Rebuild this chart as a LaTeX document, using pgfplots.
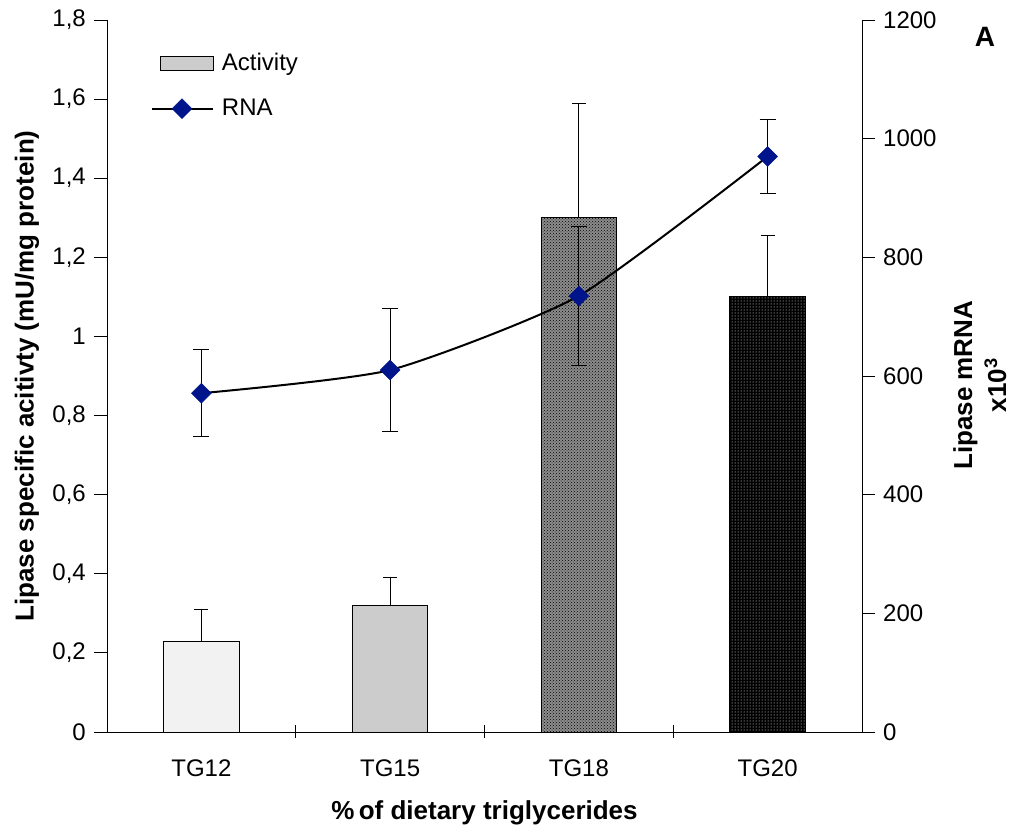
\documentclass[border=0pt]{standalone}
\usepackage{fontspec}
\setmainfont{Liberation Sans}
\usepackage{pgfplots}
\pgfplotsset{compat=1.18}
\usetikzlibrary{patterns}
\definecolor{rnablue}{HTML}{00148C}
\definecolor{tgA}{HTML}{F2F2F2}
\definecolor{tgB}{HTML}{CCCCCC}
\begin{document}
\fontsize{24}{28}\selectfont
\begin{tikzpicture}
\pgfplotsset{
  base/.style={
    scale only axis, width=755pt, height=712pt, at={(0,0)}, anchor=south west,
    xmin=-0.5, xmax=3.5,
    /pgf/number format/assume math mode=true,
    /pgf/number format/use comma,
    /pgf/number format/1000 sep={},
    tick label style={font=\fontsize{24}{28}\selectfont},
    label style={font=\fontsize{26}{34}\selectfont\bfseries},
    major tick length=13pt,
    axis line style={draw=black, line width=0.9pt},
    every tick/.style={black, line width=0.9pt},
  },
  bars/.style={ybar, bar width=0.4, bar shift=0pt, draw=black, line width=0.9pt},
  errs/.style={error bars/.cd, y dir=plus, y explicit,
    error bar style={black, line width=1pt},
    error mark options={rotate=90, mark size=7pt, line width=1pt, black}},
  rnaleg/.style={legend image code/.code={\draw[mark repeat=2,mark phase=2,##1] plot coordinates {(0pt,0pt) (30pt,0pt) (61pt,0pt)};\path (67pt,0pt);}},
}
\begin{axis}[base,
  ymin=0, ymax=1.8,
  ytick={0,0.2,0.4,0.6,0.8,1,1.2,1.4,1.6,1.8},
  axis y line*=left, axis x line*=bottom,
  ytick align=outside,
  xtick={0,1,2,3}, xticklabels={TG12,TG15,TG18,TG20},
  xtick style={draw=none},
  xticklabel style={yshift=-20pt},
  ylabel={Lipase specific acitivty (mU/mg protein)},
  ylabel style={at={(axis description cs:-0.106,0.5)}, anchor=center},
  xlabel={\%\,of dietary triglycerides},
  xlabel style={at={(axis description cs:0.5,-0.114)}, anchor=center},
]
\addplot[bars, fill=tgA, errs] coordinates {(0,0.23) +- (0,0.08)};
\addplot[bars, fill=tgB, errs] coordinates {(1,0.32) +- (0,0.07)};
\addplot[bars, fill=black!45, errs] coordinates {(2,1.30) +- (0,0.29)};
\addplot[bars, pattern=crosshatch dots, pattern color=black] coordinates {(2,1.30)};
\addplot[bars, fill=black, errs] coordinates {(3,1.10) +- (0,0.155)};
\addplot[bars, pattern=dots, pattern color=white] coordinates {(3,1.10)};
\end{axis}
\begin{axis}[base, clip=false,
  ymin=0, ymax=1200,
  ytick={0,200,400,600,800,1000,1200},
  axis y line*=right, axis x line*=bottom,
  ytick align=outside,
  xtick={0.5,1.5,2.5}, xticklabels={},
  xtick align=center,
  ylabel={Lipase mRNA\\x10\textsuperscript{3}},
  ylabel style={align=center, at={(axis description cs:1.156,0.487)}, anchor=center},
  legend style={at={(axis description cs:0.054,0.96)}, anchor=north west,
    draw=none, fill=none, font=\fontsize{24}{28}\selectfont, row sep=21pt},
  legend cell align=left,
]
\addlegendimage{legend image code/.code={\draw[fill=tgB, draw=black, line width=0.9pt] (8pt,-7pt) rectangle (61pt,7pt);\path (67pt,0pt);}}
\addlegendentry{Activity}
\addplot[black, line width=2pt, smooth, tension=0.35, mark=square*, mark size=7pt,
  mark options={rotate=45, fill=rnablue, draw=rnablue, line width=0.5pt},
  rnaleg,
  error bars/.cd, y dir=both, y explicit,
    error bar style={black, line width=1pt},
    error mark options={rotate=90, mark size=8pt, line width=1pt, black}]
  coordinates {(0,571) +- (0,73) (1,610) +- (0,104) (2,735) +- (0,117) (3,970) +- (0,62)};
\addlegendentry{RNA}
\node[font=\fontsize{28}{32}\selectfont\bfseries] at (rel axis cs:1.163,0.976) {A};
\end{axis}
\pgfresetboundingbox
\path (-107pt,-100pt) rectangle (905pt,732pt);
\end{tikzpicture}
\end{document}
